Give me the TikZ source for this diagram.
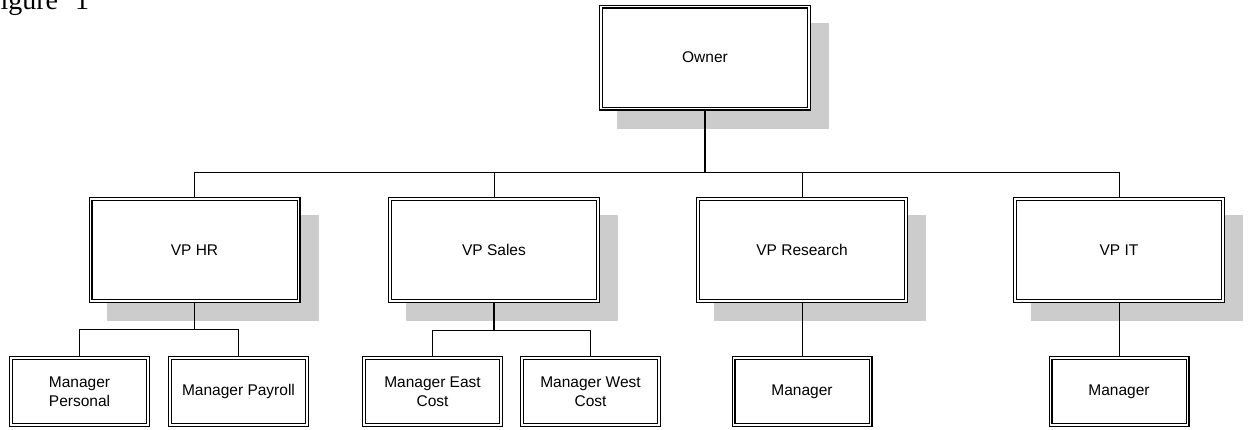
\documentclass[tikz,border=0pt]{standalone}
\usepackage{fontspec}
\setmainfont{Liberation Sans}
\newfontfamily\figfont{Liberation Serif}
\usetikzlibrary{backgrounds}
\definecolor{shadowgray}{RGB}{204,204,204}
\begin{document}
\begin{tikzpicture}[x=1pt,y=-1pt,
  box/.style={draw=black, double=white, line width=1.1pt, double distance=1.8pt,
    fill=white, inner sep=0pt, outer sep=2pt, align=center,
    font=\fontsize{15.5}{19}\selectfont},
  bigbox/.style={box, minimum width=208pt, minimum height=102pt},
  mgrbox/.style={box, minimum width=137pt, minimum height=67pt},
  link/.style={line width=1pt},
  trunk/.style={line width=1.8pt}]
\useasboundingbox (0,0) rectangle (1249,429);
\clip (0,0) rectangle (1249,429);

\node[anchor=base west, inner sep=0pt, font=\figfont\fontsize{28}{30}\selectfont] (fig) at (-15.2,9) {Figure\hspace{10pt} 1};

\node[bigbox] (owner) at (705,57.5) {Owner};
\node[bigbox] (vphr) at (194.5,250) {VP HR};
\node[bigbox] (vpsales) at (494,250) {VP Sales};
\node[bigbox] (vpres) at (802,250) {VP Research};
\node[bigbox] (vpit) at (1119,250) {VP IT};

\node[mgrbox] (mpers) at (79.5,391.5) {Manager\\Personal};
\node[mgrbox] (mpay) at (238.5,391.5) {Manager Payroll};
\node[mgrbox] (meast) at (432.5,391.5) {Manager East\\Cost};
\node[mgrbox] (mwest) at (590.5,391.5) {Manager West\\Cost};
\node[mgrbox] (mres) at (802,391.5) {Manager};
\node[mgrbox] (mit) at (1119,391.5) {Manager};

\begin{scope}[on background layer]
  \foreach \n in {owner,vphr,vpsales,vpres,vpit}
    \fill[shadowgray] ([shift={(18,18)}]\n.north west) rectangle ([shift={(18,18)}]\n.south east);
\end{scope}

\coordinate (bus) at (705,172);
\coordinate (hrbus) at (194.5,329);
\coordinate (salesbus) at (494,330);

\draw[trunk] (owner.south) -- (owner.south |- bus);
\draw[link] (vphr.north) |- (vpit.north |- bus) -- (vpit.north);
\draw[link] (vpsales.north) -- (vpsales.north |- bus);
\draw[link] (vpres.north) -- (vpres.north |- bus);

\draw[trunk] (vphr.south) -- (hrbus);
\draw[link] (mpers.north) |- (mpay.north |- hrbus) -- (mpay.north);

\draw[trunk] (vpsales.south) -- (salesbus);
\draw[link] (meast.north) |- (mwest.north |- salesbus) -- (mwest.north);

\draw[link] (vpres.south) -- (mres.north);
\draw[link] (vpit.south) -- (mit.north);
\end{tikzpicture}
\end{document}
